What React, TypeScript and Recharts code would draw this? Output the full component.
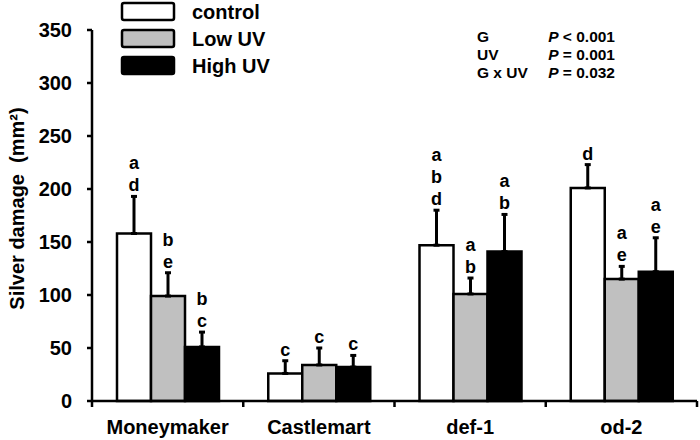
import React from 'react';
import { BarChart, Bar, XAxis, YAxis, ErrorBar, Legend, LabelList } from 'recharts';

const genotypes = ['Moneymaker', 'Castlemart', 'def-1', 'od-2'];
const control = [158, 26, 147, 201];
const lowUV = [99, 34, 101, 115];
const highUV = [51, 32, 141, 122];
const controlErr = [35, 12, 33, 22];
const lowUVErr = [22, 16, 15, 12];
const highUVErr = [14, 11, 35, 32];
// significance letters, stacked top to bottom
const controlLetters = ['a d', 'c', 'a b d', 'd'];
const lowUVLetters = ['b e', 'c', 'a b', 'a e'];
const highUVLetters = ['b c', 'c', 'a b', 'a e'];
const yTicks = [0, 50, 100, 150, 200, 250, 300, 350];
const stats = [
  { term: 'G', p: '< 0.001' },
  { term: 'UV', p: '= 0.001' },
  { term: 'G x UV', p: '= 0.032' },
];

const FONT = '"Liberation Sans", Arial, sans-serif';

const series = [
  { key: 'control', name: 'control', fill: '#ffffff', values: control, errs: controlErr, letters: controlLetters },
  { key: 'low', name: 'Low UV', fill: '#c0c0c0', values: lowUV, errs: lowUVErr, letters: lowUVLetters },
  { key: 'high', name: 'High UV', fill: '#000000', values: highUV, errs: highUVErr, letters: highUVLetters },
];

const data = genotypes.map((g, i) => {
  const row: any = { name: g };
  series.forEach((s) => {
    row[s.key] = s.values[i];
    row[s.key + 'Err'] = [0, s.errs[i]];
    row[s.key + 'Letters'] = s.letters[i];
  });
  return row;
});

const makeLetters = (values: number[], errs: number[]) => (props: any) => {
  const { x, y, width, height, index, value } = props;
  const v = values[index];
  if (!v || !value) return null;
  const pxPerUnit = height / v;
  const top = y - errs[index] * pxPerUnit;
  const lines = String(value).split(' ');
  const cx = x + width / 2;
  return (
    <g>
      {lines.map((l, k) => (
        <text
          key={k}
          x={cx}
          y={top - 5 - (lines.length - 1 - k) * 22}
          textAnchor="middle"
          fontSize={18}
          fontWeight="bold"
          fontFamily={FONT}
          fill="#000"
        >
          {l}
        </text>
      ))}
    </g>
  );
};

const TICK_MARGIN = 19;

const GenotypeTick = (props: any) => {
  const { x, y, payload, index, visibleTicksCount } = props;
  const half = payload && payload.offset ? payload.offset : 75.6;
  const axisY = y - TICK_MARGIN;
  const last = index === (visibleTicksCount ?? 4) - 1;
  return (
    <g>
      <line x1={x - half} x2={x - half} y1={axisY} y2={axisY + 6} stroke="#000" strokeWidth={2.5} />
      {last && <line x1={x + half} x2={x + half} y1={axisY} y2={axisY + 6} stroke="#000" strokeWidth={2.5} />}
      <text x={x} y={y} dy="0.71em" textAnchor="middle" fontSize={20} fontWeight="bold" fontFamily={FONT} fill="#000">
        {payload.value}
      </text>
    </g>
  );
};

const YLabel = (props: any) => {
  const vb = props.viewBox || { x: 0, y: 30, width: 92, height: 371 };
  const cx = 17;
  const cy = vb.y + vb.height / 2 - 7;
  return (
    <text
      x={cx}
      y={cy}
      transform={`rotate(-90 ${cx} ${cy})`}
      textAnchor="middle"
      dominantBaseline="central"
      fontSize={20}
      fontWeight="bold"
      fontFamily={FONT}
      fill="#000"
    >
      {'Silver damage\u00a0\u00a0(mm²)'}
    </text>
  );
};

const LegendBox = () => (
  <svg width={200} height={80}>
    {series.map((s, i) => (
      <g key={s.key}>
        <rect x={3} y={3 + i * 27} width={52} height={17} rx={2} fill={s.fill} stroke="#000" strokeWidth={2.5} />
        <text x={73} y={19 + i * 27} fontSize={20} fontWeight="bold" fontFamily={FONT} fill="#000">
          {s.name}
        </text>
      </g>
    ))}
  </svg>
);

export default function App() {
  return (
    <div style={{ position: 'absolute', left: 0, top: 0, width: 700, height: 440, background: '#fff', fontFamily: FONT }}>
      <BarChart
        width={700}
        height={440}
        data={data}
        margin={{ top: 30, right: 3, bottom: 0, left: 0 }}
        barCategoryGap={25}
        barGap={0}
      >
        <XAxis
          dataKey="name"
          height={39}
          tickLine={false}
          tickSize={0}
          tickMargin={TICK_MARGIN}
          axisLine={{ stroke: '#000', strokeWidth: 2.5 }}
          tick={<GenotypeTick />}
          interval={0}
        />
        <YAxis
          width={92}
          domain={[0, 350]}
          ticks={yTicks}
          tickSize={5}
          tickMargin={15}
          axisLine={{ stroke: '#000', strokeWidth: 2.5 }}
          tickLine={{ stroke: '#000', strokeWidth: 2.5 }}
          tick={{ fill: '#000', fontSize: 20, fontWeight: 'bold', fontFamily: FONT }}
          label={<YLabel />}
        />
        <Legend
          layout="vertical"
          align="center"
          verticalAlign="middle"
          wrapperStyle={{ top: 0, left: 119, width: 200, height: 80 }}
          content={<LegendBox />}
        />
        {series.map((s) => (
          <Bar
            key={s.key}
            dataKey={s.key}
            name={s.name}
            fill={s.fill}
            stroke="#000"
            strokeWidth={2.5}
            isAnimationActive={false}
          >
            <ErrorBar
              dataKey={s.key + 'Err'}
              direction="y"
              width={3}
              strokeWidth={3}
              stroke="#000"
              isAnimationActive={false}
            />
            <LabelList dataKey={s.key + 'Letters'} content={makeLetters(s.values, s.errs)} />
          </Bar>
        ))}
      </BarChart>
      <svg
        width={700}
        height={440}
        style={{ position: 'absolute', left: 0, top: 0, pointerEvents: 'none' }}
      >
        {stats.map((r, i) => (
          <g key={r.term} fontSize={15.5} fontWeight="bold" fontFamily={FONT} fill="#000">
            <text x={477} y={42 + i * 18}>{r.term}</text>
            <text x={615} y={42 + i * 18} textAnchor="end">
              <tspan fontStyle="italic">P</tspan> {r.p}
            </text>
          </g>
        ))}
      </svg>
    </div>
  );
}
